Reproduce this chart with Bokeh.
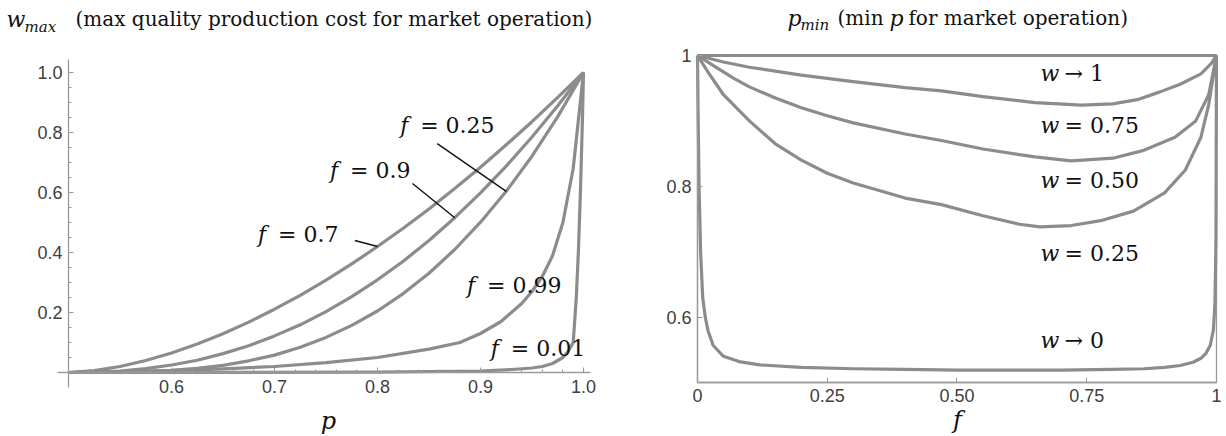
from bokeh.plotting import figure
from bokeh.models import ColumnDataSource, FixedTicker, Range1d
from bokeh.layouts import row
from bokeh.embed import file_html
from bokeh.resources import INLINE
from bokeh.core.properties import value

SERIF = "DejaVu Serif"
SANS = "Liberation Sans"
CURVE = "#8c8c8c"
AXIS = "#9a9a9a"
TICK_TXT = "#404040"
INK = "#111111"

# ---------------- left panel: w_max as a function of p ----------------
p_grid = [0.5, 0.525, 0.55, 0.575, 0.6, 0.625, 0.65, 0.675, 0.7, 0.725, 0.75,
          0.775, 0.8, 0.825, 0.85, 0.875, 0.9, 0.925, 0.95, 0.975, 1.0]
w_f07 = [0.0, 0.006, 0.020, 0.040, 0.065, 0.095, 0.129, 0.168, 0.211, 0.257, 0.308,
         0.362, 0.420, 0.481, 0.545, 0.613, 0.684, 0.759, 0.836, 0.917, 1.0]
w_f09 = [0.0, 0.001, 0.005, 0.013, 0.025, 0.041, 0.063, 0.089, 0.122, 0.159, 0.203,
         0.253, 0.309, 0.371, 0.440, 0.516, 0.599, 0.688, 0.785, 0.889, 1.0]
w_f025 = [0.0, 0.0001, 0.0008, 0.003, 0.007, 0.014, 0.024, 0.039, 0.058, 0.084, 0.117,
          0.157, 0.205, 0.263, 0.331, 0.410, 0.501, 0.604, 0.721, 0.853, 1.0]
p_f099 = [0.5, 0.6, 0.65, 0.7, 0.75, 0.8, 0.85, 0.88, 0.9, 0.92, 0.94, 0.95, 0.96,
          0.97, 0.98, 0.99, 1.0]
w_f099 = [0.0, 0.006, 0.012, 0.020, 0.033, 0.050, 0.078, 0.100, 0.130, 0.170, 0.230,
          0.270, 0.320, 0.390, 0.500, 0.680, 1.0]
p_f001 = [0.5, 0.8, 0.9, 0.93, 0.95, 0.96, 0.97, 0.98, 0.985, 0.99, 0.993, 0.995,
          0.997, 0.999, 1.0]
w_f001 = [0.0, 0.001, 0.005, 0.010, 0.015, 0.020, 0.030, 0.050, 0.070, 0.100, 0.250,
          0.400, 0.600, 0.850, 1.0]

left_x_ticks = [0.6, 0.7, 0.8, 0.9, 1.0]
left_x_tick_labels = ["0.6", "0.7", "0.8", "0.9", "1.0"]
left_y_ticks = [0.2, 0.4, 0.6, 0.8, 1.0]
left_y_tick_labels = ["0.2", "0.4", "0.6", "0.8", "1.0"]

# curve labels (left edge of the "f", vertical centre)
f_label_values = ["0.25", "0.9", "0.7", "0.99", "0.01"]
f_label_x = [0.822, 0.754, 0.684, 0.887, 0.910]
f_label_y = [0.823, 0.673, 0.460, 0.290, 0.080]
# leader lines: start point, and the sample of the labelled curve they point to
leader_x0 = [0.858, 0.834, 0.778]
leader_y0 = [0.763, 0.630, 0.440]
leader_curve = [w_f025, w_f09, w_f07]
leader_index = [17, 15, 12]

# ---------------- right panel: p_min as a function of f ----------------
f_w1 = [0.0, 1.0]
p_w1 = [1.0, 1.0]
f_w075 = [0.0, 0.05, 0.1, 0.2, 0.3, 0.4, 0.47, 0.55, 0.65, 0.74, 0.8, 0.85, 0.89,
          0.93, 0.97, 0.99, 1.0]
p_w075 = [1.0, 0.990, 0.982, 0.970, 0.960, 0.951, 0.946, 0.937, 0.928, 0.924, 0.926,
          0.933, 0.944, 0.956, 0.972, 0.988, 1.0]
f_w050 = [0.0, 0.03, 0.07, 0.1, 0.15, 0.2, 0.25, 0.3, 0.4, 0.47, 0.55, 0.65, 0.72,
          0.8, 0.86, 0.92, 0.96, 0.985, 1.0]
p_w050 = [1.0, 0.985, 0.965, 0.952, 0.935, 0.920, 0.908, 0.897, 0.880, 0.870, 0.857,
          0.845, 0.839, 0.843, 0.855, 0.875, 0.900, 0.940, 1.0]
f_w025 = [0.0, 0.02, 0.05, 0.1, 0.15, 0.2, 0.25, 0.3, 0.4, 0.47, 0.55, 0.62, 0.66,
          0.72, 0.78, 0.84, 0.9, 0.94, 0.97, 0.985, 1.0]
p_w025 = [1.0, 0.975, 0.940, 0.900, 0.865, 0.840, 0.820, 0.805, 0.782, 0.772, 0.755,
          0.742, 0.738, 0.740, 0.748, 0.762, 0.790, 0.825, 0.875, 0.925, 1.0]
f_w0 = [0.0, 0.001, 0.003, 0.006, 0.01, 0.015, 0.02, 0.03, 0.05, 0.08, 0.12, 0.2,
        0.3, 0.4, 0.5, 0.6, 0.7, 0.8, 0.86, 0.9, 0.93, 0.955, 0.97, 0.98, 0.988,
        0.994, 0.997, 0.999, 1.0]
p_w0 = [1.0, 0.92, 0.80, 0.70, 0.630, 0.600, 0.580, 0.557, 0.540, 0.532, 0.527,
        0.523, 0.521, 0.520, 0.519, 0.519, 0.519, 0.520, 0.521, 0.523, 0.526, 0.531,
        0.537, 0.545, 0.557, 0.580, 0.620, 0.720, 1.0]

right_x_ticks = [0.0, 0.25, 0.5, 0.75, 1.0]
right_x_tick_labels = ["0", "0.25", "0.50", "0.75", "1"]
right_y_ticks = [0.6, 0.8, 1.0]
right_y_tick_labels = ["0.6", "0.8", "1"]

w_label_text = ["\u2192 1", "= 0.75", "= 0.50", "= 0.25", "\u2192 0"]
w_label_x = [0.661, 0.661, 0.661, 0.661, 0.661]
w_label_y = [0.9725, 0.893, 0.809, 0.697, 0.564]

# plotted domains
p_domain = (0.5, 1.0)
w_domain = (0.0, 1.0)
f_domain = (0.0, 1.0)
pmin_domain = (0.5, 1.0)


def style_axis(axis, ticks, labels, minor=None):
    axis.ticker = FixedTicker(ticks=ticks, minor_ticks=minor or [])
    axis.major_label_overrides = {t: s for t, s in zip(ticks, labels)}
    axis.major_label_text_font = SANS
    axis.major_label_text_font_size = "18px"
    axis.major_label_text_color = TICK_TXT
    axis.axis_line_color = AXIS
    axis.axis_line_width = 1.3
    axis.major_tick_line_color = AXIS
    axis.minor_tick_line_color = AXIS
    axis.major_tick_in = 5
    axis.major_tick_out = 0
    axis.minor_tick_in = 3
    axis.minor_tick_out = 0


def add_text(fig, xs, ys, texts, size, italic=False, align="left"):
    src = ColumnDataSource(dict(x=xs, y=ys, t=texts))
    fig.text(x="x", y="y", text="t", source=src, text_font=value(SERIF),
             text_font_style="italic" if italic else "normal", text_font_size=size,
             text_color=INK, text_align=align, text_baseline="middle")


def bare_figure(width, x_range, y_range):
    fig = figure(width=width, height=436, x_range=Range1d(*x_range),
                 y_range=Range1d(*y_range), output_backend="svg",
                 toolbar_location=None, title=None, min_border=0)
    fig.outline_line_color = None
    fig.grid.visible = False
    fig.background_fill_color = "white"
    fig.border_fill_color = "white"
    return fig


# ---------- left figure ----------
left = bare_figure(620, (0.43398, 1.03592), (-0.21333, 1.24))

x_minor = [round(0.5 + 0.02 * i, 2) for i in range(26)]
y_minor = [round(0.05 * i, 2) for i in range(21)]
style_axis(left.xaxis[0], left_x_ticks, left_x_tick_labels, x_minor)
style_axis(left.yaxis[0], left_y_ticks, left_y_tick_labels, y_minor)
left.xaxis.fixed_location = w_domain[0]
left.yaxis.fixed_location = p_domain[0]
left.xaxis.bounds = (0.489, 1.007)
left.yaxis.bounds = (-0.05, 1.045)
left.xaxis.major_label_standoff = 7
left.yaxis.major_label_standoff = 6

for px, wy in [(p_grid, w_f07), (p_grid, w_f09), (p_grid, w_f025),
               (p_f099, w_f099), (p_f001, w_f001)]:
    left.line(px, wy, line_color=CURVE, line_width=3.2, line_join="round")

add_text(left, f_label_x, f_label_y, ["f"] * len(f_label_x), "22px", italic=True)
lsrc = ColumnDataSource(dict(x=f_label_x, y=f_label_y,
                             t=["= " + v for v in f_label_values]))
left.text(x="x", y="y", text="t", source=lsrc, text_font=value(SERIF),
          text_font_size="22px", text_color=INK, text_baseline="middle",
          text_align="left", x_offset=20)

x1 = [p_grid[i] for i in leader_index]
y1 = [c[i] for c, i in zip(leader_curve, leader_index)]
left.segment(x0=leader_x0, y0=leader_y0, x1=x1, y1=y1, line_color=INK, line_width=1.4)

# title and axis name
add_text(left, [0.43981], [1.1767], ["w"], "22px", italic=True)
add_text(left, [0.45728], [1.1533], ["max"], "15px", italic=True)
add_text(left, [0.5068], [1.18], ["(max quality production cost for market operation)"], "20px")
add_text(left, [0.7524], [-0.16], ["p"], "24px", italic=True, align="center")

# ---------- right figure ----------
right = bare_figure(606, (-0.14836, 1.01927), (0.41743, 1.0841))
style_axis(right.xaxis[0], right_x_ticks, right_x_tick_labels)
style_axis(right.yaxis[0], right_y_ticks, right_y_tick_labels)
right.xaxis.fixed_location = pmin_domain[0]
right.yaxis.fixed_location = f_domain[0]
right.xaxis.bounds = f_domain
right.yaxis.bounds = pmin_domain
right.xaxis.major_label_standoff = 7
right.yaxis.major_label_standoff = 6

# frame around the plotted domain
right.quad(left=[f_domain[0]], right=[f_domain[1]], bottom=[pmin_domain[0]],
           top=[pmin_domain[1]], fill_color=None, line_color=AXIS, line_width=1.3)

for fx, py in [(f_w1, p_w1), (f_w075, p_w075), (f_w050, p_w050),
               (f_w025, p_w025), (f_w0, p_w0)]:
    right.line(fx, py, line_color=CURVE, line_width=3.2, line_join="round")

add_text(right, w_label_x, w_label_y, ["w"] * len(w_label_x), "22px", italic=True)
rsrc = ColumnDataSource(dict(x=w_label_x, y=w_label_y, t=w_label_text))
right.text(x="x", y="y", text="t", source=rsrc, text_font=value(SERIF),
           text_font_size="22px", text_color=INK, text_baseline="middle",
           text_align="left", x_offset=24)

# title pieces and axis name
add_text(right, [0.1734, 0.3699], [1.0566, 1.0566], ["p", "p"], "22px", italic=True)
add_text(right, [0.1984], [1.0459], ["min"], "15px", italic=True)
add_text(right, [0.2697, 0.4065], [1.0575, 1.0575], ["(min", "for market operation)"], "20px")
add_text(right, [0.501], [0.4419], ["f"], "24px", italic=True, align="center")

layout = row(left, right)
open("out.html", "w").write(file_html(layout, INLINE))
